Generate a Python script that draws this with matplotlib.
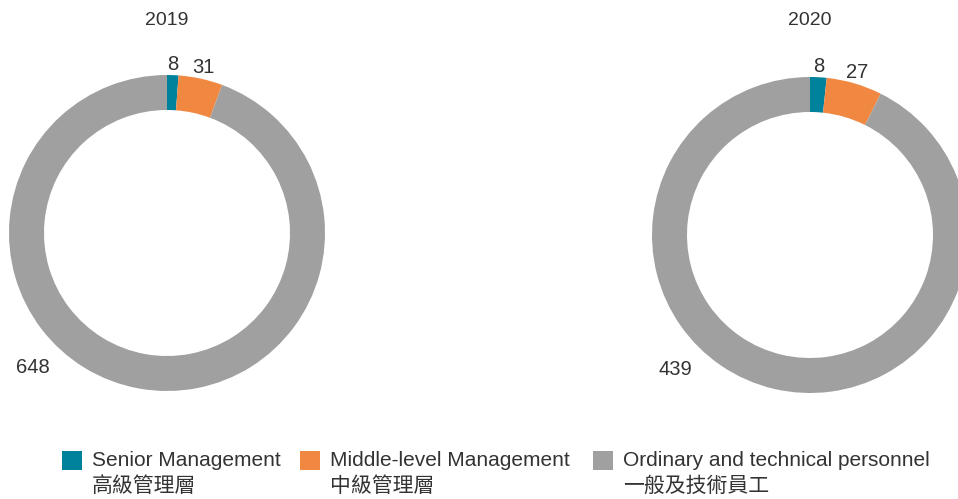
import matplotlib.pyplot as plt
import numpy as np
from matplotlib.patches import Rectangle

plt.rcParams['font.family'] = ['Liberation Sans', 'Noto Sans CJK TC', 'DejaVu Sans']

## データ
years = ['2019', '2020']
senior = [8, 8]
middle = [31, 27]
ordinary = [648, 439]
label_en = ['Senior Management', 'Middle-level Management', 'Ordinary and technical personnel']
label_zh = ['高級管理層', '中級管理層', '一般及技術員工']
colors = ['#00819c', '#f08842', '#a0a0a0']

W, H = 958, 499
fig = plt.figure(figsize=(W / 100, H / 100), dpi=100)
ax = fig.add_axes([0, 0, 1, 1])

centers = [(167, H - 233), (810, H - 235)]
R = 158
ring = 35
txt_col = '#333333'

for i, yr in enumerate(years):
    vals = [senior[i], middle[i], ordinary[i]]
    cx, cy = centers[i]
    wedges, _ = ax.pie(vals, colors=colors, startangle=90, counterclock=False,
                       radius=R, center=(cx, cy), frame=True,
                       wedgeprops=dict(width=ring, edgecolor='none'))
    ax.text(cx, H - 20, yr, ha='center', va='center', fontsize=14, color=txt_col)
    # 小さい区分のラベル（リングの外側）
    for j, w in enumerate(wedges[:2]):
        ang = np.deg2rad((w.theta1 + w.theta2) / 2)
        r = R + 11
        ax.text(cx + r * np.cos(ang), cy + r * np.sin(ang), str(vals[j]),
                ha='center', va='center', fontsize=14.5, color=txt_col)
    # 大きい区分のラベル（左下）
    ang = np.deg2rad(225)
    r = R + 32
    ax.text(cx + r * np.cos(ang), cy + r * np.sin(ang), str(vals[2]),
            ha='center', va='center', fontsize=14.5, color=txt_col)

ax.set_xlim(0, W)
ax.set_ylim(0, H)
ax.set_aspect('equal')
ax.axis('off')

## 凡例
sq_x = [62, 300, 593]
for k in range(3):
    ax.add_patch(Rectangle((sq_x[k], H - 470), 20, 19, color=colors[k], lw=0))
    ax.text(sq_x[k] + 30, H - 461, label_en[k], ha='left', va='center', fontsize=15, color=txt_col)
    ax.text(sq_x[k] + 30, H - 486, label_zh[k], ha='left', va='center', fontsize=15,
            color=txt_col, weight='light', family=['Noto Sans CJK TC', 'DejaVu Sans'])

fig.savefig('out.png', dpi=100)
